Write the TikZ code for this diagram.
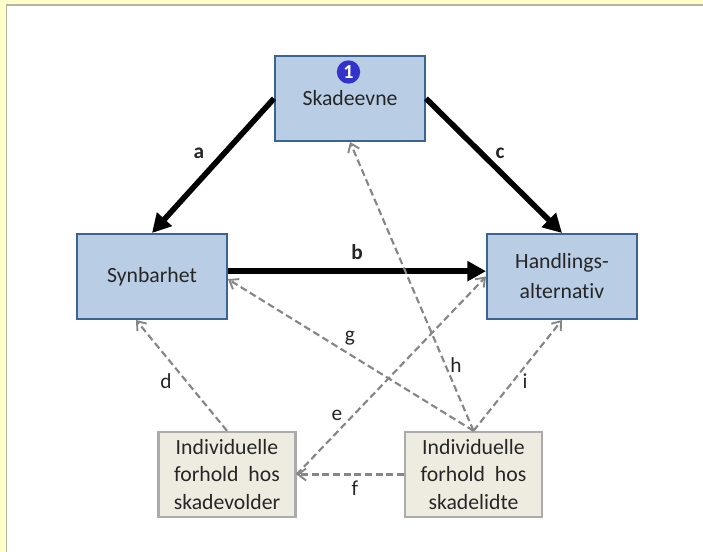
\documentclass[tikz,border=0pt]{standalone}
\usepackage{fontspec}
\setmainfont{Carlito}[Ligatures=NoCommon]
\usetikzlibrary{arrows.meta}
\definecolor{pagey}{HTML}{FFFFC9}
\definecolor{shadowg}{HTML}{B4B4A0}
\definecolor{bluefill}{HTML}{B9CDE5}
\definecolor{blueline}{HTML}{3A6494}
\definecolor{beigefill}{HTML}{EEECE1}
\definecolor{dashg}{HTML}{868686}
\definecolor{badge}{HTML}{3333CC}
\tikzset{
  mainbox/.style={draw=blueline,fill=bluefill,line width=1.5pt,minimum width=112.5pt,minimum height=63.75pt,inner sep=0pt,align=center,font=\fontsize{16.3pt}{22.5pt}\selectfont,text=black!85},
  sidebox/.style={draw=black!33,fill=beigefill,line width=1.8pt,minimum width=102.5pt,minimum height=63.75pt,inner sep=0pt,align=center,font=\fontsize{16.3pt}{20.5pt}\selectfont,text=black!85},
  thick arrow/.style={line width=4.2pt,-{Triangle[length=14pt,width=14.5pt]}},
  dash arrow/.style={draw=dashg,line width=1.6pt,dash pattern=on 5.2pt off 2.8pt,-{Straight Barb[length=6pt,width=9pt,line width=1.4pt]}},
  lab/.style={font=\fontsize{16pt}{18pt}\selectfont,text=black!85,inner sep=0pt},
  blab/.style={lab,font=\fontsize{16pt}{18pt}\selectfont\bfseries},
}
\begin{document}
\begin{tikzpicture}[x=0.75pt,y=-0.75pt]
\useasboundingbox (0,0) rectangle (703,552);
\fill[pagey] (0,0) rectangle (703,552);
\fill[shadowg] (5.5,4.5) rectangle (703,552);
\fill[white] (7,6) rectangle (703,552);
\node[mainbox] (ska) at (350,98.5) {\raisebox{-0.8pt}{Skadeevne}};
\node[circle,fill=badge,minimum size=17.5pt,inner sep=0pt,text=white,font=\fontsize{15pt}{15pt}\selectfont\bfseries] (num) at (348.5,72) {1};
\node[mainbox] (syn) at (152,276.5) {Synbarhet};
\node[mainbox] (han) at (562,276.5) {Handlings-\\alternativ};
\node[sidebox] (vol) at (227,474.5) {Individuelle\\forhold\ \ hos\\skadevolder};
\node[sidebox] (lid) at (473.5,474.5) {Individuelle\\forhold\ \ hos\\skadelidte};
\draw[thick arrow] (ska.west) -- (syn.north);
\draw[thick arrow] (ska.east) -- (han.north);
\draw[thick arrow] ([yshift=4pt]syn.east) -- ([yshift=4pt]han.west);
\draw[dash arrow] (vol.north) -- ([xshift=-12pt]syn.south);
\draw[dash arrow] (vol.east) -- (han.west);
\draw[dash arrow] (lid.west) -- (vol.east);
\draw[dash arrow] (lid.north) -- ([yshift=-2pt]syn.east);
\draw[dash arrow] (lid.north) -- (ska.south);
\draw[dash arrow] (lid.north) -- (han.south);
\node[blab] (la) at (199,153) {a};
\node[blab] (lc) at (500,153) {c};
\node[blab] (lb) at (357,252) {b};
\node[lab] (ld) at (166,381) {d};
\node[lab] (le) at (337,415) {e};
\node[lab] (lf) at (355,488) {f};
\node[lab] (lg) at (350,338) {g};
\node[lab] (lh) at (456,365) {h};
\node[lab] (li) at (525,381) {i};
\end{tikzpicture}
\end{document}
